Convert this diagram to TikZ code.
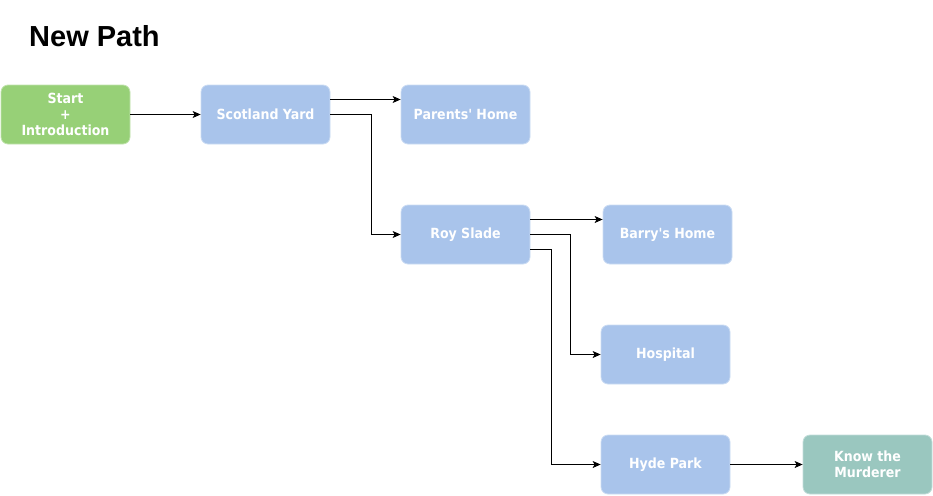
\documentclass[tikz,border=0pt]{standalone}
\usepackage{fontspec}
\newfontfamily\boxfont{DejaVu Sans Condensed}
\newfontfamily\titlefont{Liberation Sans}
\usetikzlibrary{arrows.meta}
\definecolor{greenbox}{HTML}{97D077}
\definecolor{bluebox}{HTML}{A9C4EB}
\definecolor{tealbox}{HTML}{9AC7BF}
\tikzset{
  card/.style={rounded corners=7pt, minimum width=129pt, minimum height=59pt,
    inner sep=0pt, align=center, text=white,
    font=\boxfont\bfseries\fontsize{14pt}{16pt}\selectfont, line width=0.8pt},
  bluecard/.style={card, fill=bluebox, draw=bluebox!60!white},
  greencard/.style={card, fill=greenbox, draw=greenbox!60!white},
  tealcard/.style={card, fill=tealbox, draw=tealbox!60!white},
  arr/.style={draw=black, line width=0.9pt, -{Stealth[length=8pt,width=7pt,inset=2pt]}},
}
\begin{document}
\begin{tikzpicture}[x=1pt,y=-1pt]
\useasboundingbox (0,0) rectangle (933,495);
\node[anchor=base west, inner sep=0pt, font=\titlefont\bfseries\fontsize{29pt}{34pt}\selectfont] (title) at (29,46) {New Path};
\node[greencard] (start) at (65.5,114.5) {Start\\+\\Introduction};
\node[bluecard] (sy) at (265.5,114.5) {Scotland Yard};
\node[bluecard] (ph) at (465.5,114.5) {Parents\textquotesingle{} Home};
\node[bluecard] (rs) at (465.5,234.5) {Roy Slade};
\node[bluecard] (bh) at (667.5,234.5) {Barry\textquotesingle s Home};
\node[bluecard] (ho) at (665.5,354.5) {Hospital};
\node[bluecard] (hp) at (665.5,464.5) {Hyde Park};
\node[tealcard] (km) at (867.5,464.5) {Know the\\Murderer};
\draw[arr] (start) -- (sy);
\draw[arr] ([yshift=15pt]sy.east) -- ([yshift=15pt]ph.west);
\draw[arr] (sy.east) -- ++(41,0) |- (rs.west);
\draw[arr] ([yshift=15pt]rs.east) -- ([yshift=15pt]bh.west);
\draw[arr] (rs.east) -- ++(40,0) |- (ho.west);
\draw[arr] ([yshift=-15pt]rs.east) -- ++(21,0) |- (hp.west);
\draw[arr] (hp) -- (km);
\end{tikzpicture}
\end{document}
